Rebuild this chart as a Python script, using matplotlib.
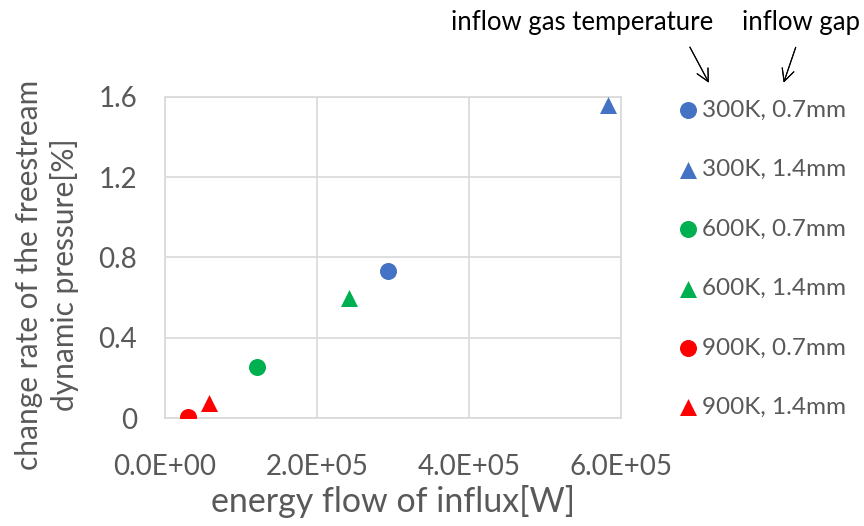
import matplotlib.pyplot as plt

# データ
labels = ['300K, 0.7mm', '300K, 1.4mm', '600K, 0.7mm', '600K, 1.4mm', '900K, 0.7mm', '900K, 1.4mm']
energy = [2.93e5, 5.83e5, 1.21e5, 2.42e5, 0.30e5, 0.58e5]
change_rate = [0.735, 1.56, 0.255, 0.60, 0.005, 0.075]
colors = ['#4472C4', '#4472C4', '#00B050', '#00B050', '#FF0000', '#FF0000']
markers = ['o', '^', 'o', '^', 'o', '^']

xticks = [0, 2e5, 4e5, 6e5]
xticklabels = ['0.0E+00', '2.0E+05', '4.0E+05', '6.0E+05']
yticks = [0, 0.4, 0.8, 1.2, 1.6]
yticklabels = ['0', '0.4', '0.8', '1.2', '1.6']

plt.rcParams['font.family'] = ['Lato', 'DejaVu Sans']
grey = '#595959'

fig = plt.figure(figsize=(8.64, 5.26), dpi=100)
ax = fig.add_axes([0.191, 0.205, 0.528, 0.611])

for x, y, c, m, lab in zip(energy, change_rate, colors, markers, labels):
    ax.scatter(x, y, s=150, c=c, marker=m, label=lab, zorder=3, linewidths=0)

ax.set_xlim(0, 6e5)
ax.set_ylim(0, 1.6)
ax.set_xticks(xticks)
ax.set_xticklabels(xticklabels)
ax.set_yticks(yticks)
ax.set_yticklabels(yticklabels)
ax.tick_params(length=0, labelsize=20, colors=grey)
ax.tick_params(axis='x', pad=26)
ax.tick_params(axis='y', pad=20)
ax.grid(True, color='#D9D9D9', linewidth=1.2)
ax.set_axisbelow(True)
for s in ax.spines.values():
    s.set_color('#D9D9D9')
    s.set_linewidth(1.2)

fig.text(0.455, 0.047, 'energy flow of influx[W]', ha='center', va='center', fontsize=24.5, color=grey)
fig.text(0.054, 0.478, 'change rate of the freestream\ndynamic pressure[%]', rotation=90,
         ha='center', va='center', fontsize=21.5, color=grey, linespacing=1.3)

leg = fig.legend(loc='upper left', bbox_to_anchor=(0.755, 0.852), frameon=False,
                 fontsize=17.5, labelspacing=1.58, handletextpad=0.0, handlelength=1.15,
                 labelcolor=grey)

# 注釈
fig.text(0.674, 0.958, 'inflow gas temperature', ha='center', va='center', fontsize=18.5, color='black')
fig.text(0.927, 0.958, 'inflow gap', ha='center', va='center', fontsize=18.5, color='black')
fig.add_artist(plt.annotate('', xy=(0.822, 0.838), xytext=(0.797, 0.915), xycoords='figure fraction',
                            arrowprops=dict(arrowstyle='->', color='black', lw=0.8, mutation_scale=22)))
fig.add_artist(plt.annotate('', xy=(0.906, 0.838), xytext=(0.922, 0.915), xycoords='figure fraction',
                            arrowprops=dict(arrowstyle='->', color='black', lw=0.8, mutation_scale=22)))

plt.savefig('out.png', dpi=100)
